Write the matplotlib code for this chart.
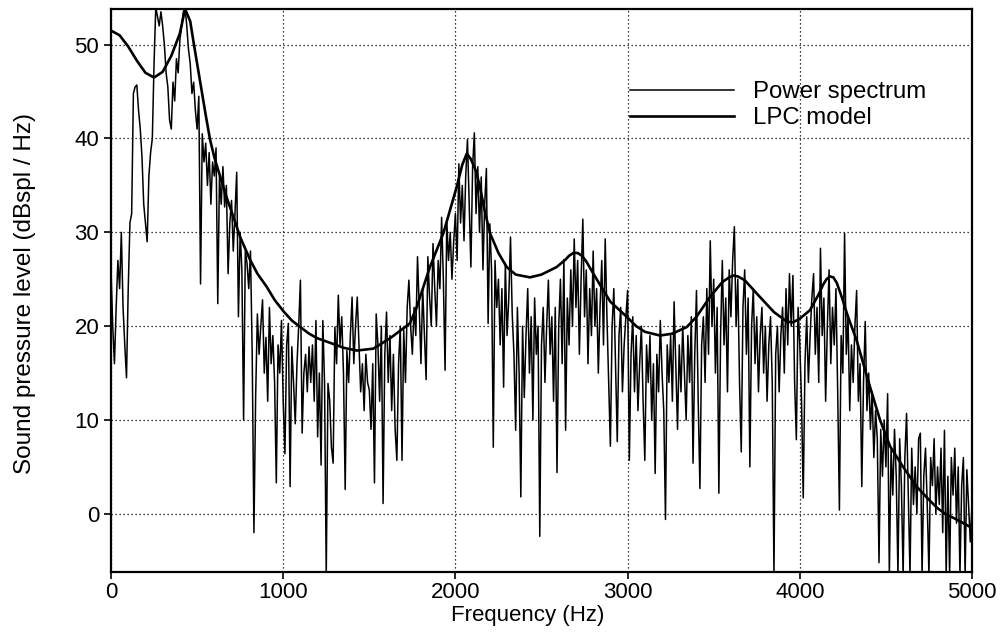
import numpy as np
import matplotlib
matplotlib.use("Agg")
import matplotlib.pyplot as plt

# ---- data ----
spec_step_hz = 10
power_spectrum_db = [
    26, 20, 16, 22, 27, 24, 30, 22, 18, 14.5, 24, 31, 32, 44.8, 45.5, 45.7, 43, 41, 38, 33,
    31, 29, 36, 38.5, 40, 48, 54, 53, 52, 53.5, 52, 50, 47, 45.5, 42, 41, 46, 44, 48.5, 47,
    50.5, 52, 53.5, 54, 52, 49.5, 48, 44.8, 46, 43, 41, 44.5, 24.5, 40.5, 37.5, 39.5, 35, 38.5, 33, 37.5,
    36, 39, 22.4, 36, 33, 37, 32.7, 35, 25.6, 31, 33.4, 28, 32, 36.4, 21, 30, 26, 10, 28, 26.7,
    24, 28, 17, -2, 12.5, 21.3, 17, 20, 22.8, 15, 18.8, 12, 22, 16, 19, 14, 3.3, 18, 15, 20.6,
    12, 6.4, 18, 20.3, 2.9, 17.8, 14, 9.6, 16, 20, 24.9, 8.6, 15, 17, 13, 17.8, 14, 18, 12, 20.6,
    8.2, 15, 5.2, 20.6, 14, -6.5, 13.9, 12.1, 7.1, 5.4, 19.9, 16, 23.3, 18, 21, 15, 2.6, 17.4, 14, 19,
    23.1, 16, 20, 23.1, 18, 13, 16, 11, 17, 14, 13.2, 9, 16, 3.3, 21.3, 18, 12, 20, 1.1, 17,
    21.5, 14, 19, 11, 17, 9, 5.7, 16, 20, 5.7, 19.6, 14, 22, 24.9, 20, 17, 22, 19, 27.4, 22,
    16, 24, 19, 14.3, 27.4, 23.1, 20, 28.8, 24, 20, 27, 24, 31.6, 25, 15.3, 31.3, 27, 30, 25, 29,
    32, 27, 37.3, 31, 35, 29.1, 36, 39.9, 33, 26.3, 37, 40.6, 32, 37, 30, 35.9, 26, 33, 36.8, 20.3,
    30.9, 26, 7.1, 27, 22, 25, 18, 24, 13.5, 26.7, 19, 23, 29.5, 21.3, 17, 8.9, 22, 15, 1.8, 20,
    12.4, 19, 24, 15, 21, 10, 23, 17, 20, -2.4, 18, 22, 14, 20, 24.9, 17, 21, 12, 22, 4.4,
    20, 25, 16, 27.1, 8.9, 23, 18, 26, 20, 29.3, 22, 27, 17, 25, 31.4, 21, 26, 16, 24, 19,
    28, 20, 24, 15, 22, 27, 18, 29.3, 21, 14, 7.2, 20, 24, 16, 7.7, 19, 22, 13, 18, 21,
    23.8, 5.7, 17, 21, 13, 19, 11, 16, 20, 12, 5.7, 18, 14, 19, 10, 16, 4.3, 17, 13, 20.6,
    15, 11, -0.6, 18, 14, 19, 12, 22.6, 16, 9, 18, 13, 20, 15, 10, 19, 14, 21, 5.4, 17,
    23.8, 12, 2.7, 18, 21, 14, 24, 17, 29.1, 20, 25, 15, 22, 2.2, 19, 27, 18, 23, 13, 26,
    21, 27, 30.6, 20, 25, 14, 6.6, 22, 26, 17, 23, 5, 20, 24, 16, 21, 13, 19, 22, 15,
    20, 12, 18, 21, 14, -6.5, 17, 20, 13, 19, 22, 15, 24, 18, 25.6, 20, 25.4, 14, 7.9, 22,
    18, 12, 1.7, 16, 21, 14, 19, 23, 25.6, 17, 22, 14, 28.3, 19, 23, 12, 20, 26, 16, 22,
    18, 24, 13, 0.4, 19, 15, 29.9, 17, 21, 11, 18, 14, 20, 23.8, 12, 16, 2.9, 14, 20.5, 11,
    15, 9, 13, 6, 11, 8, -5.2, 9, 4, 10, 5, 12.8, -6.5, 7, 2, 9, 4, -6.5, 8, 3,
    -6.5, 6, 10.7, 2, -6.5, 7, 1, 5, 0, 8, 8.6, -6.5, 4, 7, 1, -6.5, 6, 3, 8, 0,
    5, 1, 7, -2, 8.9, -6.5, 4, -6.5, 6, 2, 7, -1, 5, -6.5, 3, 6, -6.5, 4.7, 1, -3,
    1,
]
spectrum_freq_hz = [i * spec_step_hz for i in range(len(power_spectrum_db))]

lpc_freq_hz = [0, 50, 100, 150, 200, 250, 300, 350, 400, 430, 460, 480, 500, 520, 550, 575,
               600, 633, 670, 710, 750, 807, 850, 904, 950, 1001, 1050, 1100, 1150, 1200,
               1291, 1350, 1427, 1523, 1620, 1700, 1736, 1775, 1852, 1930, 2007, 2040, 2066,
               2090, 2120, 2143, 2170, 2201, 2250, 2298, 2350, 2433, 2500, 2588, 2640, 2660,
               2685, 2710, 2735, 2760, 2801, 2850, 2900, 2995, 3050, 3100, 3188, 3260, 3343,
               3400, 3478, 3550, 3590, 3614, 3640, 3680, 3769, 3850, 3924, 3960, 4000, 4059,
               4110, 4135, 4155, 4175, 4195, 4215, 4240, 4280, 4330, 4400, 4466, 4524, 4600,
               4679, 4750, 4800, 4853, 4900, 4950, 5000]
lpc_db = [51.5, 51.0, 49.8, 48.3, 47.0, 46.5, 47.1, 48.8, 51.2, 53.8, 52.5, 50.2, 48.0, 45.8, 42.5, 39.9,
          38.0, 36.0, 33.8, 31.7, 29.5, 27.1, 25.6, 24.2, 22.8, 21.6, 20.6, 19.9, 19.2, 18.7,
          18.1, 17.7, 17.4, 17.6, 18.7, 19.8, 20.3, 22.0, 26.3, 29.9, 34.8, 37.2, 38.4,
          37.8, 36.5, 34.8, 32.3, 29.9, 27.8, 26.3, 25.5, 25.2, 25.5, 26.3, 27.1, 27.5,
          27.8, 27.8, 27.5, 26.9, 25.6, 24.1, 22.6, 21.0, 20.0, 19.4, 19.0, 19.2, 19.9,
          21.0, 23.1, 24.7, 25.2, 25.4, 25.3, 24.9, 23.1, 21.5, 20.5, 20.4, 20.8, 21.7,
          23.4, 24.4, 25.0, 25.3, 25.2, 24.6, 23.3, 21.0, 18.5, 14.0, 10.0, 7.2, 5.0,
          2.9, 1.5, 0.6, -0.1, -0.5, -1.0, -1.5]

x_ticks = [0, 1000, 2000, 3000, 4000, 5000]
y_ticks = [0, 10, 20, 30, 40, 50]
legend_labels = ["Power spectrum", "LPC model"]

# ---- figure ----
plt.rcParams['font.family'] = ['Liberation Sans', 'DejaVu Sans']
fig = plt.figure(figsize=(10.01, 6.38), dpi=100)
ax = fig.add_axes([111 / 1001, 1 - 572 / 638, (972 - 111) / 1001, (572 - 9) / 638])

ax.plot(spectrum_freq_hz, power_spectrum_db, color='black', lw=1.1, label=legend_labels[0])
ax.plot(lpc_freq_hz, lpc_db, color='black', lw=1.9, label=legend_labels[1])

ax.set_xlim(0, 5000)
ax.set_ylim(-6.2, 53.8)
ax.set_xticks(x_ticks)
ax.set_yticks(y_ticks)
ax.tick_params(axis='both', labelsize=16, direction='out', length=5, width=1.2, colors='black')
ax.tick_params(axis='x', pad=2)
ax.grid(True, color='black', linestyle=(0, (1, 2.2)), linewidth=0.9)
for s in ax.spines.values():
    s.set_linewidth(1.6)

ax.set_xlabel("Frequency (Hz)", fontsize=16)
ax.xaxis.set_label_coords((528 - 111) / 861, -(616 - 572) / 563, transform=ax.transAxes)
ax.xaxis.label.set_va('center')
ax.set_ylabel("Sound pressure level (dBspl / Hz)", fontsize=17.5)
ax.yaxis.set_label_coords(-(111 - 25) / 861, (572 - 293) / 563, transform=ax.transAxes)
ax.yaxis.label.set_va('center')

leg = ax.legend(loc='upper left', bbox_to_anchor=(0.603, 0.872), frameon=False,
                fontsize=17.3, handlelength=4.3, handletextpad=0.8, labelspacing=0.18,
                borderpad=0, borderaxespad=0)
for t in leg.get_texts():
    t.set_color('black')

fig.savefig("out.png", dpi=100, facecolor='white')
